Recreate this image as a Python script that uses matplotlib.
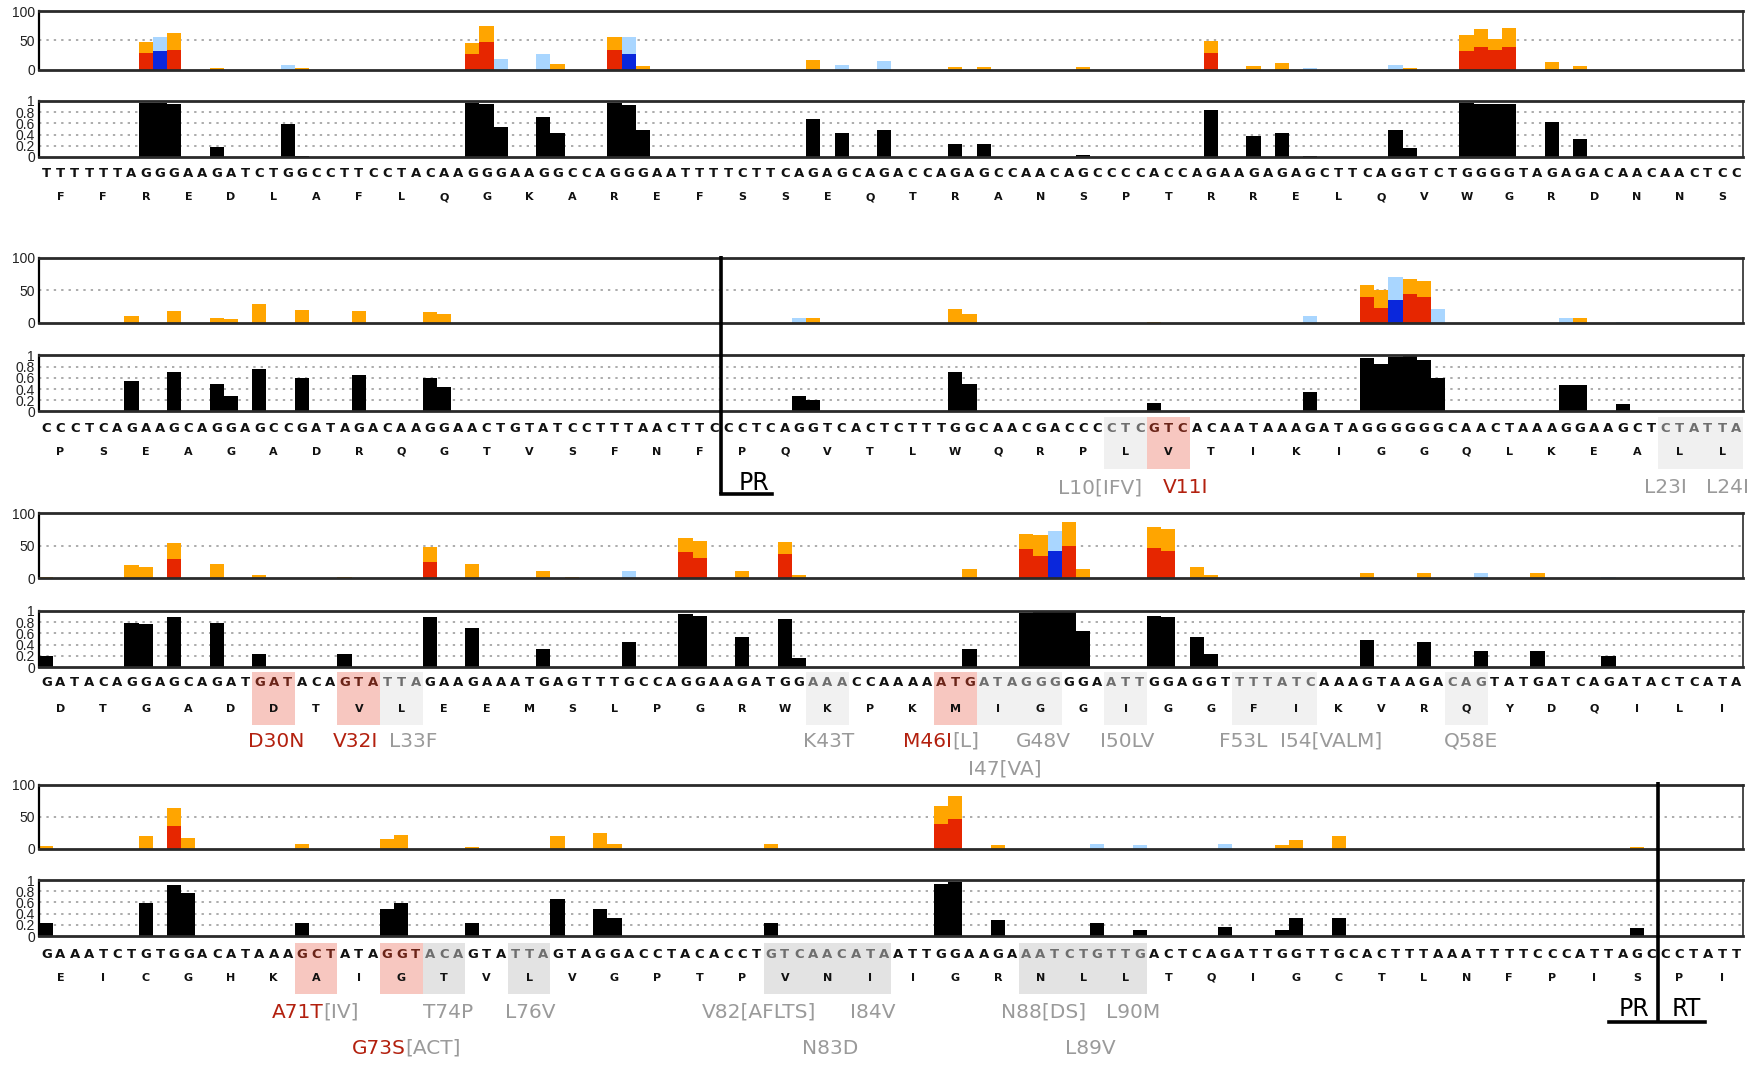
import matplotlib
matplotlib.use('Agg')
import matplotlib.pyplot as plt
from matplotlib.transforms import blended_transform_factory
from matplotlib.patches import Rectangle
from matplotlib.lines import Line2D

# ---------------- data ----------------
seq_rows = [
    "TTTTTTAGGGAAGATCTGGCCTTCCTACAAGGGAAGGCCAGGGAATTTTCTTCAGAGCAGACCAGAGCCAACAGCCCCACCAGAAGAGAGCTTCAGGTCTGGGGTAGAGACAACAACTCC",
    "CCCTCAGAAGCAGGAGCCGATAGACAAGGAACTGTATCCTTTAACTTCCCTCAGGTCACTCTTTGGCAACGACCCCTCGTCACAATAAAGATAGGGGGGCAACTAAAGGAAGCTCTATTA",
    "GATACAGGAGCAGATGATACAGTATTAGAAGAAATGAGTTTGCCAGGAAGATGGAAACCAAAAATGATAGGGGGAATTGGAGGTTTTATCAAAGTAAGACAGTATGATCAGATACTCATA",
    "GAAATCTGTGGACATAAAGCTATAGGTACAGTATTAGTAGGACCTACACCTGTCAACATAATTGGAAGAAATCTGTTGACTCAGATTGGTTGCACTTTAAATTTTCCCATTAGCCCTATT",
]
aa_rows = [
    "FFREDLAFLQGKAREFSSEQTRANSPTRRELQVWGRDNNS",
    "PSEAGADRQGTVSFNFPQVTLWQRPLVTIKIGGQLKEALL",
    "DTGADDTVLEEMSLPGRWKPKMIGGIGGFIKVRQYDQILI",
    "EICGHKAIGTVLVGPTPVNIIGRNLLTQIGCTLNFPISPI",
]

# stacked panel segments (percent), keyed by nucleotide index within the row
red_rows = [
    {7: 29, 9: 34, 30: 27, 31: 48, 40: 34, 82: 29, 100: 32, 101: 39, 102: 34, 103: 39},
    {93: 40, 94: 23, 96: 44, 97: 40},
    {9: 30, 27: 26, 45: 40, 46: 32, 52: 38, 69: 46, 70: 35, 72: 50, 78: 47, 79: 43},
    {9: 36, 63: 39, 64: 46},
]
orange_rows = [
    {7: 19, 9: 28, 12: 3, 18: 2, 30: 19, 31: 26, 36: 10, 40: 22, 42: 6, 54: 17, 64: 5, 66: 5,
     73: 5, 82: 20, 85: 6, 87: 11, 96: 2, 100: 28, 101: 31, 102: 19, 103: 33, 106: 13, 108: 6},
    {6: 11, 9: 19, 12: 8, 13: 6.5, 15: 29, 18: 20, 22: 19, 27: 16, 28: 13, 54: 8, 64: 22, 65: 13,
     78: 2, 93: 19, 94: 27, 96: 23, 97: 24, 108: 7},
    {0: 3, 6: 20, 7: 18, 9: 25, 12: 23, 15: 6, 21: 3, 27: 23, 30: 23, 35: 11, 37: 1.5, 45: 22,
     46: 26, 49: 12, 52: 18, 53: 5, 65: 14, 69: 22, 70: 32, 72: 37, 73: 15, 78: 32, 79: 33,
     81: 18, 82: 5, 93: 9, 97: 9, 105: 8},
    {0: 4, 7: 19, 9: 27, 10: 16, 18: 7, 24: 15, 25: 21, 30: 2, 36: 19, 39: 24, 40: 8, 51: 8,
     63: 28, 64: 37, 67: 5, 87: 5, 88: 13, 91: 19, 112: 2},
]
blue_rows = [
    {8: 32, 41: 27},
    {95: 35},
    {71: 43},
    {},
]
lightblue_rows = [
    {8: 23, 17: 8, 32: 18, 35: 27, 41: 29, 56: 8, 59: 15, 89: 2, 95: 8},
    {53: 8, 89: 11, 95: 35, 98: 22, 107: 7, 111: 1},
    {41: 11, 71: 30, 101: 8, 110: 3},
    {74: 8, 77: 5, 83: 8},
]
black_rows = [
    {7: 0.97, 8: 0.97, 9: 0.95, 12: 0.17, 17: 0.58, 18: 0.02, 30: 0.97, 31: 0.95, 32: 0.53,
     35: 0.72, 36: 0.42, 40: 0.97, 41: 0.92, 42: 0.48, 54: 0.68, 56: 0.42, 59: 0.48, 64: 0.23,
     66: 0.23, 73: 0.04, 82: 0.84, 85: 0.37, 87: 0.42, 89: 0.02, 95: 0.48, 96: 0.16, 100: 0.97,
     101: 0.95, 102: 0.95, 103: 0.95, 106: 0.63, 108: 0.32},
    {6: 0.55, 9: 0.70, 12: 0.49, 13: 0.27, 15: 0.75, 18: 0.60, 22: 0.65, 27: 0.60, 28: 0.43,
     53: 0.27, 54: 0.20, 64: 0.70, 65: 0.49, 78: 0.15, 89: 0.34, 93: 0.95, 94: 0.85, 95: 0.97,
     96: 1.0, 97: 0.92, 98: 0.60, 107: 0.48, 108: 0.48, 111: 0.14},
    {0: 0.20, 6: 0.79, 7: 0.76, 9: 0.89, 12: 0.79, 15: 0.23, 21: 0.23, 27: 0.89, 30: 0.69,
     35: 0.32, 41: 0.44, 45: 0.95, 46: 0.91, 49: 0.53, 52: 0.86, 53: 0.16, 65: 0.32, 69: 0.97,
     70: 1.0, 71: 1.0, 72: 1.0, 73: 0.65, 78: 0.91, 79: 0.89, 81: 0.53, 82: 0.23, 93: 0.49,
     97: 0.44, 101: 0.28, 105: 0.28, 110: 0.20},
    {0: 0.23, 7: 0.59, 9: 0.91, 10: 0.77, 18: 0.23, 24: 0.49, 25: 0.59, 30: 0.23, 36: 0.66,
     39: 0.49, 40: 0.33, 51: 0.23, 63: 0.93, 64: 0.96, 67: 0.28, 74: 0.23, 77: 0.11, 83: 0.16,
     87: 0.11, 88: 0.33, 91: 0.33, 112: 0.15},
]

# highlighted codons (1-based codon within row): 'r' major (pink), 'g' minor (grey)
highlight_rows = [
    [],
    [(26, 'g'), (27, 'r'), (39, 'g'), (40, 'g')],
    [(6, 'r'), (8, 'r'), (9, 'g'), (19, 'g'), (22, 'r'), (23, 'g'), (24, 'g'), (26, 'g'),
     (29, 'g'), (30, 'g'), (34, 'g')],
    [(7, 'r'), (9, 'r'), (10, 'g'), (12, 'g'), (18, 'g'), (19, 'g'), (20, 'g'), (24, 'g'),
     (25, 'g'), (26, 'g')],
]

# mutation labels: (row, line, x in nucleotide units, [(text, colour-kind)], anchor)
labels = [
    (1, 0, 74.7, [("L10[IFV]", 'g')], 'center'),
    (1, 0, 80.7, [("V11I", 'r')], 'center'),
    (1, 0, 114.5, [("L23I", 'g')], 'center'),
    (1, 0, 118.9, [("L24I", 'g')], 'center'),
    (2, 0, 16.7, [("D30N", 'r')], 'center'),
    (2, 0, 22.3, [("V32I", 'r')], 'center'),
    (2, 0, 26.3, [("L33F", 'g')], 'center'),
    (2, 0, 55.6, [("K43T", 'g')], 'center'),
    (2, 0, 64.3, [("M46I", 'r'), ("[L]", 'g')], 'split'),
    (2, 0, 70.7, [("G48V", 'g')], 'center'),
    (2, 0, 76.6, [("I50LV", 'g')], 'center'),
    (2, 0, 84.8, [("F53L", 'g')], 'center'),
    (2, 0, 91.0, [("I54[VALM]", 'g')], 'center'),
    (2, 0, 100.8, [("Q58E", 'g')], 'center'),
    (2, 1, 68.0, [("I47[VA]", 'g')], 'center'),
    (3, 0, 20.0, [("A71T", 'r'), ("[IV]", 'g')], 'split'),
    (3, 0, 28.8, [("T74P", 'g')], 'center'),
    (3, 0, 34.6, [("L76V", 'g')], 'center'),
    (3, 0, 50.7, [("V82[AFLTS]", 'g')], 'center'),
    (3, 0, 58.7, [("I84V", 'g')], 'center'),
    (3, 0, 70.7, [("N88[DS]", 'g')], 'center'),
    (3, 0, 77.0, [("L90M", 'g')], 'center'),
    (3, 1, 25.8, [("G73S", 'r'), ("[ACT]", 'g')], 'split'),
    (3, 1, 55.7, [("N83D", 'g')], 'center'),
    (3, 1, 74.0, [("L89V", 'g')], 'center'),
]

# ---------------- layout (reference pixel grid 1568 x 950) ----------------
W, H = 1568.0, 950.0
X0, X1 = 35.0, 1555.0
top_span = [(10, 62), (230, 288), (458, 516), (700, 757)]
blk_span = [(90, 140), (317, 367), (545, 595), (785, 835)]
nt_y = [155, 382, 609, 851]
aa_y = [176, 403, 632, 872]
lab_y = [None, (435, None), (661, 686), (903, 935)]

C_RED = '#E62600'
C_ORANGE = '#FFA500'
C_BLUE = '#0A27DC'
C_LBLUE = '#A9D6FF'
C_PINK = '#F7C7C0'
C_LABRED = '#B3200E'
C_LABGREY = '#9A9A9A'
GREY_BOX = ['#F0F0F0', '#F0F0F0', '#F1F1F1', '#E3E3E3']
LAB_FS = 14.5

fig = plt.figure(figsize=(17.58, 10.65), dpi=100)
fig.patch.set_facecolor('white')


def fy(y):
    return 1 - y / H


def make_axes(span):
    t, b = span
    return fig.add_axes([X0 / W, fy(b), (X1 - X0) / W, (b - t) / H])


def style(ax, ymax, ticks, ticklabels, grid):
    ax.set_xlim(0, 120)
    ax.set_ylim(0, ymax)
    ax.set_xticks([])
    ax.set_yticks(ticks)
    ax.set_yticklabels(ticklabels, fontsize=10, color='#222222',
                       family=['Liberation Sans Narrow', 'Liberation Sans', 'DejaVu Sans'])
    ax.tick_params(axis='y', length=0, pad=3)
    for g in grid:
        ax.axhline(g, color='#ABABAB', lw=1.4, ls=(0, (1.2, 2.6)), zorder=0)
    for s in ['top', 'bottom']:
        ax.spines[s].set_linewidth(2.0)
        ax.spines[s].set_color('#2a2a2a')
    ax.spines['left'].set_linewidth(1.6)
    ax.spines['left'].set_color('black')
    ax.spines['right'].set_linewidth(1.2)
    ax.spines['right'].set_color('#2a2a2a')
    ax.set_facecolor('none')


for r in range(4):
    axt = make_axes(top_span[r])
    axb = make_axes(blk_span[r])
    style(axt, 100, [0, 50, 100], ['0', '50', '100'], [50])
    style(axb, 1.0, [0, 0.2, 0.4, 0.6, 0.8, 1.0],
          ['0', '0.2', '0.4', '0.6', '0.8', '1'], [0.2, 0.4, 0.6, 0.8])

    red, ora, blu, lbl, blk = red_rows[r], orange_rows[r], blue_rows[r], lightblue_rows[r], black_rows[r]
    if red:
        axt.bar([k + 0.5 for k in red], list(red.values()), width=1.0, color=C_RED, lw=0, zorder=2)
    if ora:
        axt.bar([k + 0.5 for k in ora], list(ora.values()), width=1.0,
                bottom=[red.get(k, 0) for k in ora], color=C_ORANGE, lw=0, zorder=2)
    if blu:
        axt.bar([k + 0.5 for k in blu], list(blu.values()), width=1.0, color=C_BLUE, lw=0, zorder=2)
    if lbl:
        axt.bar([k + 0.5 for k in lbl], list(lbl.values()), width=1.0,
                bottom=[blu.get(k, 0) for k in lbl], color=C_LBLUE, lw=0, zorder=2)
    axb.bar([k + 0.5 for k in blk], list(blk.values()), width=1.0, color='black', lw=0, zorder=2)

    tr = blended_transform_factory(axb.transData, fig.transFigure)

    # highlight boxes
    nt_col = ['#111111'] * 120
    for codon, kind in highlight_rows[r]:
        x = 3 * (codon - 1)
        col = C_PINK if kind == 'r' else GREY_BOX[r]
        rect = Rectangle((x, fy(aa_y[r] + 15)), 3, (aa_y[r] + 15 - (nt_y[r] - 10)) / H,
                         transform=tr, facecolor=col, edgecolor='none', zorder=0, clip_on=False)
        fig.add_artist(rect)
        for j in range(3):
            nt_col[x + j] = '#6A2418' if kind == 'r' else '#6E6E6E'

    for i, ch in enumerate(seq_rows[r]):
        fig.text(i + 0.5, fy(nt_y[r]), ch, transform=tr, ha='center', va='center',
                 fontsize=9.5, fontweight='bold', color=nt_col[i], family='DejaVu Sans')
    for k, ch in enumerate(aa_rows[r]):
        fig.text(3 * k + 1.5, fy(aa_y[r]), ch, transform=tr, ha='center', va='center',
                 fontsize=8, fontweight='bold', color='#111111', family='DejaVu Sans')

    for (lr, line, xpos, parts, anchor) in labels:
        if lr != r:
            continue
        yl = fy(lab_y[r][line])
        if anchor == 'center':
            txt, kind = parts[0]
            fig.text(xpos, yl, txt, transform=tr, ha='center', va='center', fontsize=LAB_FS,
                     color=C_LABRED if kind == 'r' else C_LABGREY)
        else:
            (t1, k1), (t2, k2) = parts
            fig.text(xpos, yl, t1, transform=tr, ha='right', va='center', fontsize=LAB_FS,
                     color=C_LABRED if k1 == 'r' else C_LABGREY)
            fig.text(xpos, yl, t2, transform=tr, ha='left', va='center', fontsize=LAB_FS,
                     color=C_LABRED if k2 == 'r' else C_LABGREY)

    if r == 1:
        fig.add_artist(Line2D([48, 48], [fy(228), fy(441)], transform=tr, color='black', lw=2.6,
                              solid_capstyle='butt', zorder=5))
        fig.add_artist(Line2D([48, 51.6], [fy(441), fy(441)], transform=tr, color='black', lw=2.6,
                              zorder=5))
        fig.text(50.3, fy(431), 'PR', transform=tr, ha='center', va='center', fontsize=17,
                 color='black')
    if r == 3:
        fig.add_artist(Line2D([114, 114], [fy(698), fy(912)], transform=tr, color='black', lw=2.6,
                              solid_capstyle='butt', zorder=5))
        fig.add_artist(Line2D([110.5, 117.3], [fy(912), fy(912)], transform=tr, color='black',
                              lw=2.6, zorder=5))
        fig.text(112.3, fy(900), 'PR', transform=tr, ha='center', va='center', fontsize=17,
                 color='black')
        fig.text(116.0, fy(900), 'RT', transform=tr, ha='center', va='center', fontsize=17,
                 color='black')

fig.savefig('out.png', dpi=100, facecolor='white')
